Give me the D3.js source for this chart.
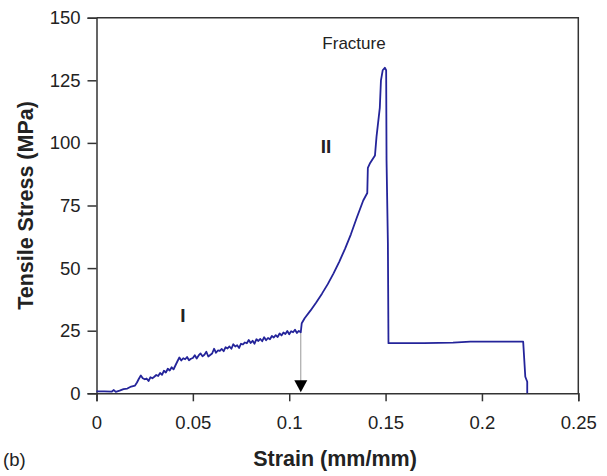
<!DOCTYPE html>
<html>
<head>
<meta charset="utf-8">
<script src="https://cdn.jsdelivr.net/npm/d3@7"></script>
<style>
  body { margin: 0; background: #fff; }
  svg { display: block; font-family: "Liberation Sans", Arial, sans-serif; }
</style>
</head>
<body>
<div id="chart"></div>
<script>
// strain (mm/mm) and tensile stress (MPa)
var strain = [
  0.000, 0.004, 0.008, 0.009, 0.010, 0.012, 0.014, 0.016, 0.018, 0.020,
  0.021, 0.022, 0.023, 0.024, 0.025, 0.026, 0.027, 0.028, 0.029, 0.030,
  0.031, 0.032, 0.033, 0.034, 0.035, 0.036, 0.037, 0.038, 0.039, 0.040,
  0.041, 0.042, 0.043, 0.044, 0.045, 0.046, 0.047, 0.048, 0.049, 0.050,
  0.051, 0.052, 0.053, 0.054, 0.055, 0.056, 0.057, 0.058, 0.059, 0.060,
  0.061, 0.062, 0.063, 0.064, 0.065, 0.066, 0.067, 0.068, 0.069, 0.070,
  0.071, 0.072, 0.073, 0.074, 0.075, 0.076, 0.077, 0.078, 0.079, 0.080,
  0.081, 0.082, 0.083, 0.084, 0.085, 0.086, 0.087, 0.088, 0.089, 0.090,
  0.091, 0.092, 0.093, 0.094, 0.095, 0.096, 0.097, 0.098, 0.099, 0.100,
  0.101, 0.102, 0.103, 0.104, 0.105, 0.106, 0.1065,
  0.108, 0.111, 0.114, 0.117, 0.120, 0.123, 0.126, 0.129, 0.132, 0.135,
  0.1384, 0.1405, 0.1408, 0.142, 0.1445, 0.1453, 0.147, 0.1476, 0.1485,
  0.1496, 0.1503, 0.1505, 0.1512, 0.1515, 0.170, 0.185, 0.194, 0.2214, 0.2225,
  0.2235, 0.2235
];
var stress = [
  0.8, 0.8, 0.7, 1.3, 0.6, 1.1, 1.7, 1.9, 2.7, 3.1,
  4.3, 5.8, 7.1, 6.0, 5.6, 5.9, 4.9, 6.4, 6.0, 6.6,
  7.3, 6.9, 8.1, 7.4, 9.0, 8.3, 9.8, 9.1, 10.4, 9.6,
  11.2, 12.8, 14.3, 13.1, 14.0, 13.6, 14.5, 13.2, 13.8, 14.1,
  15.2, 13.9, 15.1, 15.9, 14.8, 15.4, 16.6, 14.7, 15.3, 15.9,
  17.8, 16.2, 17.1, 16.9, 17.7, 16.8, 18.4, 17.9, 18.7, 17.8,
  19.6, 18.7, 19.2, 18.1, 19.8, 19.5, 20.3, 20.0, 21.3, 20.1,
  21.0, 19.8, 21.6, 20.9, 21.7, 20.8, 22.4, 21.2, 22.1, 21.6,
  22.9, 22.3, 23.2, 22.5, 23.9, 23.1, 24.3, 23.7, 24.9, 23.6,
  24.8, 24.4, 25.4, 24.1, 24.9, 24.4, 28.0,
  30.0, 33.0, 36.3, 39.8, 43.6, 47.9, 52.6, 57.8, 63.5, 70.0,
  77.0, 80.0, 90.0, 92.0, 95.0, 102.5, 114.0, 125.0, 129.0,
  130.0, 129.0, 93.0, 60.0, 20.0, 20.0, 20.2, 20.6, 20.6, 6.6,
  4.6, 0.0
];

var xTicks = [0, 0.05, 0.1, 0.15, 0.2, 0.25];
var yTicks = [0, 25, 50, 75, 100, 125, 150];

// arrow marking the end of region I
var arrowStrain = 0.106;
var arrowFrom = 24.4;

var width = 607, height = 476;
var margin = {top: 17.7, right: 28.7, bottom: 82.7, left: 96.5};

var svg = d3.select("#chart").append("svg")
    .attr("width", width)
    .attr("height", height);

var x = d3.scaleLinear().domain([0, 0.25]).range([margin.left, width - margin.right]);
var y = d3.scaleLinear().domain([0, 150]).range([height - margin.bottom, margin.top]);

var axisColor = "#333";

// box (top and right)
svg.append("path")
    .attr("d", "M" + x(0) + "," + y(150) + "H" + x(0.25) + "V" + y(0))
    .attr("fill", "none")
    .attr("stroke", axisColor)
    .attr("stroke-width", 1.5);

var xAxis = svg.append("g")
    .attr("transform", "translate(0," + y(0) + ")")
    .call(d3.axisBottom(x).tickValues(xTicks).tickSize(8).tickPadding(15)
        .tickFormat(function(d) { return d3.format("~g")(d); }));

var yAxis = svg.append("g")
    .attr("transform", "translate(" + x(0) + ",0)")
    .call(d3.axisLeft(y).tickValues(yTicks).tickSize(9).tickPadding(7));

[xAxis, yAxis].forEach(function(g) {
    g.select(".domain").attr("stroke", axisColor).attr("stroke-width", 1.5);
    g.selectAll(".tick line").attr("stroke", axisColor).attr("stroke-width", 1.5);
    g.selectAll(".tick text")
        .attr("fill", "#222")
        .style("font-size", "18.5px")
        .style("font-family", "'Liberation Sans', Arial, sans-serif");
});

// arrow
svg.append("line")
    .attr("x1", x(arrowStrain)).attr("x2", x(arrowStrain))
    .attr("y1", y(arrowFrom)).attr("y2", y(0) - 12)
    .attr("stroke", "#999")
    .attr("stroke-width", 1);
svg.append("path")
    .attr("d", "M" + (x(arrowStrain) - 6.5) + "," + (y(0) - 13) +
               "L" + (x(arrowStrain) + 6.5) + "," + (y(0) - 13) +
               "L" + x(arrowStrain) + "," + (y(0) - 1) + "Z")
    .attr("fill", "#000");

// curve
var line = d3.line()
    .x(function(d, i) { return x(strain[i]); })
    .y(function(d) { return y(d); });

svg.append("path")
    .datum(stress)
    .attr("d", line)
    .attr("fill", "none")
    .attr("stroke", "#24249a")
    .attr("stroke-width", 1.8)
    .attr("stroke-linejoin", "round");

// annotations
svg.append("text")
    .attr("x", 354).attr("y", 49)
    .attr("text-anchor", "middle")
    .style("font-size", "17px")
    .attr("fill", "#222")
    .text("Fracture");

svg.append("text")
    .attr("x", 183).attr("y", 322)
    .attr("text-anchor", "middle")
    .style("font-size", "19px")
    .style("font-weight", "bold")
    .attr("fill", "#222")
    .text("I");

svg.append("text")
    .attr("x", 326).attr("y", 153)
    .attr("text-anchor", "middle")
    .style("font-size", "19px")
    .style("font-weight", "bold")
    .attr("fill", "#222")
    .text("II");

// axis titles
svg.append("text")
    .attr("x", 335).attr("y", 466)
    .attr("text-anchor", "middle")
    .style("font-size", "21.5px")
    .style("font-weight", "bold")
    .attr("fill", "#222")
    .text("Strain (mm/mm)");

svg.append("text")
    .attr("transform", "translate(33," + ((y(0) + y(150)) / 2) + ") rotate(-90)")
    .attr("text-anchor", "middle")
    .style("font-size", "21.5px")
    .style("font-weight", "bold")
    .attr("fill", "#222")
    .text("Tensile Stress (MPa)");

svg.append("text")
    .attr("x", 3).attr("y", 466)
    .style("font-size", "18.5px")
    .attr("fill", "#222")
    .text("(b)");
</script>
</body>
</html>
